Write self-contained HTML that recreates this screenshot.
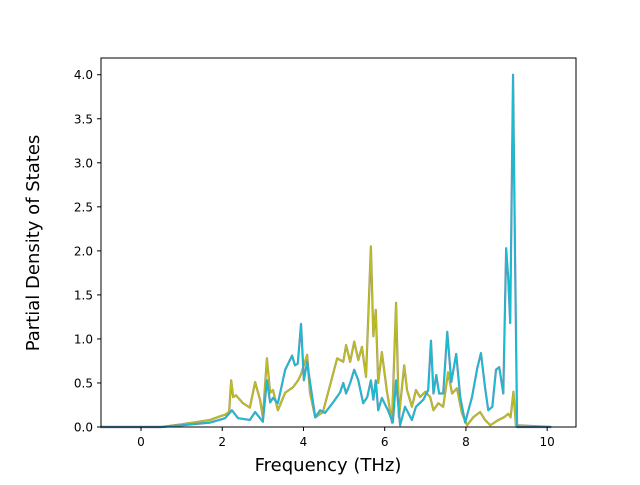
<!DOCTYPE html>
<html><head><meta charset="utf-8"><style>
html,body{margin:0;padding:0;background:#fff;}
svg text{font-family:"DejaVu Sans","Liberation Sans",sans-serif;}
</style></head><body>
<svg id="chart" width="640" height="480" viewBox="0 0 640 480" xmlns="http://www.w3.org/2000/svg">
<rect x="0" y="0" width="640" height="480" fill="#fff"/>
<g id="plot"></g>
<rect x="101" y="58" width="475" height="369" fill="none" stroke="#000" stroke-width="1"/>
<g id="xticks"></g>
<g id="yticks"></g>
<text x="328" y="471" font-size="18" text-anchor="middle">Frequency (THz)</text>
<text transform="translate(39,243) rotate(-90)" font-size="18" text-anchor="middle">Partial Density of States</text>
</svg>
<script>
const xTicks = [0, 2, 4, 6, 8, 10];
const yTicks = ["0.0","0.5","1.0","1.5","2.0","2.5","3.0","3.5","4.0"];
const freqA = [-1.0,0.5,1.0,1.7,2.0,2.07,2.17,2.22,2.27,2.34,2.51,2.68,2.81,2.93,3.0,3.1,3.18,3.25,3.37,3.55,3.74,3.87,3.94,4.09,4.16,4.29,4.48,4.6,4.83,4.98,5.05,5.15,5.25,5.35,5.44,5.54,5.66,5.72,5.78,5.84,5.93,6.05,6.18,6.28,6.35,6.48,6.55,6.67,6.77,6.87,7.0,7.12,7.2,7.32,7.44,7.56,7.66,7.78,7.9,8.03,8.18,8.35,8.47,8.6,8.8,8.94,9.04,9.1,9.17,9.23,10.1];
const pdosA = [0,0,0.03,0.08,0.13,0.14,0.17,0.53,0.34,0.36,0.27,0.22,0.51,0.31,0.11,0.78,0.39,0.42,0.19,0.39,0.45,0.53,0.6,0.82,0.39,0.11,0.17,0.38,0.78,0.74,0.93,0.74,0.97,0.76,0.91,0.57,2.05,1.03,1.33,0.5,0.85,0.42,0.05,1.41,0.11,0.7,0.42,0.23,0.42,0.34,0.4,0.34,0.19,0.27,0.23,0.62,0.38,0.44,0.16,0.02,0.11,0.17,0.08,0.02,0.08,0.11,0.15,0.11,0.4,0.02,0];
const freqB = [-1.0,0.5,1.0,1.7,2.0,2.07,2.24,2.39,2.68,2.81,3.0,3.1,3.18,3.25,3.37,3.55,3.72,3.79,3.86,3.94,4.01,4.09,4.19,4.29,4.41,4.53,4.73,4.9,4.98,5.05,5.15,5.25,5.35,5.47,5.57,5.66,5.72,5.78,5.84,5.93,6.08,6.2,6.28,6.38,6.5,6.67,6.77,6.95,7.07,7.14,7.2,7.27,7.34,7.44,7.54,7.64,7.76,7.86,7.98,8.15,8.28,8.37,8.47,8.55,8.65,8.74,8.82,8.92,8.99,9.04,9.09,9.16,9.21,9.26,10.1];
const pdosB = [0,0,0.02,0.05,0.09,0.1,0.19,0.1,0.08,0.17,0.06,0.53,0.28,0.33,0.27,0.65,0.81,0.7,0.72,1.17,0.53,0.74,0.42,0.11,0.19,0.16,0.28,0.39,0.5,0.38,0.5,0.65,0.53,0.27,0.34,0.53,0.31,0.53,0.19,0.33,0.19,0.05,0.53,0.02,0.23,0.08,0.23,0.31,0.42,0.98,0.38,0.59,0.38,0.38,1.08,0.51,0.83,0.34,0.05,0.34,0.67,0.84,0.45,0.19,0.23,0.65,0.68,0.38,2.03,1.7,1.18,4.0,1.9,0,0];

const NS = "http://www.w3.org/2000/svg";
const X0 = 101, X1 = 576, Y0 = 427, Y1 = 58;
const xMin = -0.985, xMax = 10.71, yMin = 0, yMax = 4.19;
function xs(v){ return X0 + (v - xMin) / (xMax - xMin) * (X1 - X0); }
function ys(v){ return Y0 - (v - yMin) / (yMax - yMin) * (Y0 - Y1); }

const plot = document.getElementById('plot');
function drawSeries(fr, vals, colors, name){
  const d = fr.map((f,i)=>(i?'L':'M')+xs(f).toFixed(2)+','+Math.max(Y1,ys(vals[i])).toFixed(2)).join(' ');
  colors.forEach((c,k)=>{
    const p = document.createElementNS(NS,'path');
    
    
    p.setAttribute('d', d);
    p.setAttribute('fill','none');
    p.setAttribute('stroke', c);
    p.setAttribute('stroke-width', k===colors.length-1 ? '1.6' : '2.2');
    p.setAttribute('stroke-linejoin','round');
    plot.appendChild(p);
  });
}
drawSeries(freqA, pdosA, ['#9a8a6a','#bcbd22'], 'pdos-series-a');
drawSeries(freqB, pdosB, ['#7f7faf','#17becf'], 'pdos-series-b');

const xg = document.getElementById('xticks');
xTicks.forEach(t=>{
  const x = xs(t);
  const l = document.createElementNS(NS,'line');
  
  
  l.setAttribute('x1',x); l.setAttribute('x2',x); l.setAttribute('y1',Y0); l.setAttribute('y2',Y0+4);
  l.setAttribute('stroke','#000');
  xg.appendChild(l);
  const tx = document.createElementNS(NS,'text');
  
  
  tx.setAttribute('x',x); tx.setAttribute('y',446);
  tx.setAttribute('font-size','12'); tx.setAttribute('text-anchor','middle');
  tx.textContent = t;
  xg.appendChild(tx);
});
const yg = document.getElementById('yticks');
yTicks.forEach(t=>{
  const y = ys(parseFloat(t));
  const l = document.createElementNS(NS,'line');
  
  
  l.setAttribute('x1',X0-4); l.setAttribute('x2',X0); l.setAttribute('y1',y); l.setAttribute('y2',y);
  l.setAttribute('stroke','#000');
  yg.appendChild(l);
  const tx = document.createElementNS(NS,'text');
  
  
  tx.setAttribute('x',X0-8); tx.setAttribute('y',y+4.5);
  tx.setAttribute('font-size','12'); tx.setAttribute('text-anchor','end');
  tx.textContent = t;
  yg.appendChild(tx);
});
</script>
</body></html>
